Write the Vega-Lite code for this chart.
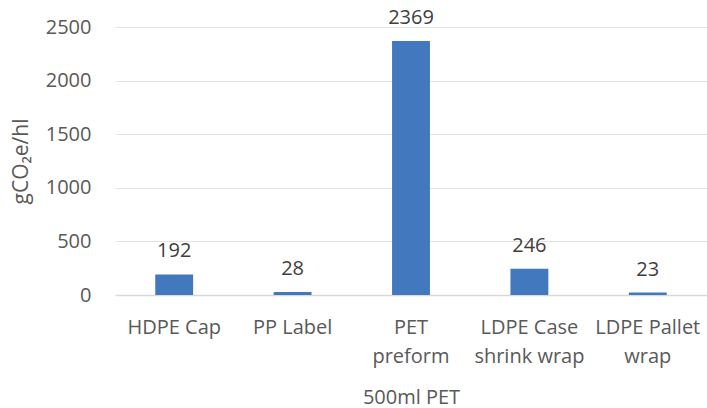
{
  "$schema": "https://vega.github.io/schema/vega-lite/v6.json",
  "width": 592,
  "height": 268,
  "autosize": {"type": "none"},
  "padding": {"left": 115, "top": 27, "right": 0, "bottom": 113},
  "background": "white",
  "config": {
    "view": {"stroke": null},
    "font": "Open Sans",
    "axis": {"labelColor": "#595959", "titleColor": "#595959", "labelFont": "Open Sans", "titleFont": "Open Sans", "titleFontWeight": "normal"}
  },
  "data": {
    "values": [
      {"component": "HDPE Cap", "value": 192},
      {"component": "PP Label", "value": 28},
      {"component": "PET preform", "value": 2369},
      {"component": "LDPE Case shrink wrap", "value": 246},
      {"component": "LDPE Pallet wrap", "value": 23}
    ]
  },
  "encoding": {
    "x": {
      "field": "component",
      "type": "nominal",
      "sort": null,
      "scale": {"paddingInner": 0.68, "paddingOuter": 0.34},
      "axis": {
        "title": "500ml PET",
        "titleFontSize": 20,
        "titlePadding": 21,
        "labelFontSize": 20,
        "labelAngle": 0,
        "labelPadding": 22,
        "labelLineHeight": 29,
        "labelExpr": "datum.value == 'PET preform' ? ['PET','preform'] : datum.value == 'LDPE Case shrink wrap' ? ['LDPE Case','shrink wrap'] : datum.value == 'LDPE Pallet wrap' ? ['LDPE Pallet','wrap'] : datum.value",
        "ticks": false,
        "domain": true,
        "domainColor": "#D9D9D9",
        "domainWidth": 1.5
      }
    },
    "y": {
      "field": "value",
      "type": "quantitative",
      "scale": {"domain": [0, 2500]},
      "axis": {
        "title": "gCO₂e/hl",
        "titleFontSize": 21,
        "titlePadding": 14,
        "labelFontSize": 20,
        "labelPadding": 24,
        "format": "d",
        "values": [0, 500, 1000, 1500, 2000, 2500],
        "ticks": false,
        "domain": false,
        "grid": true,
        "gridColor": "#E3E3E3",
        "gridWidth": 1
      }
    }
  },
  "layer": [
    {"mark": {"type": "bar", "color": "#4178BE"}},
    {
      "mark": {"type": "text", "baseline": "alphabetic", "dy": -17, "fontSize": 20, "color": "#404040", "font": "Open Sans"},
      "encoding": {"text": {"field": "value", "type": "quantitative"}}
    }
  ]
}
